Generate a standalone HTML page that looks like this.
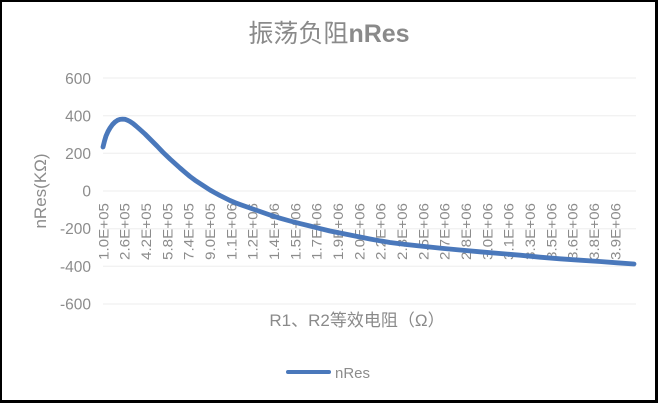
<!DOCTYPE html>
<html>
<head>
<meta charset="utf-8">
<style>
html,body{margin:0;padding:0;background:#fff;}
body{width:658px;height:403px;overflow:hidden;}
svg{display:block;}
</style>
</head>
<body>
<svg width="658" height="403" viewBox="0 0 658 403" xmlns="http://www.w3.org/2000/svg">
  <rect x="0" y="0" width="658" height="403" fill="#000"/>
  <rect x="2" y="2" width="653" height="398" fill="#fff"/>

  <!-- Title -->
  <text x="329" y="42" text-anchor="middle" fill="#8a8a8a" font-size="25" font-family="'Liberation Sans','Noto Sans CJK SC',sans-serif"><tspan>振荡负阻</tspan><tspan font-weight="bold">nRes</tspan></text>

  <!-- gridlines -->
  <g stroke="#eeeeee" stroke-width="1">
    <line x1="103" y1="78" x2="636" y2="78"/>
    <line x1="103" y1="115.7" x2="636" y2="115.7"/>
    <line x1="103" y1="153.3" x2="636" y2="153.3"/>
    <line x1="103" y1="191" x2="636" y2="191"/>
    <line x1="103" y1="228.7" x2="636" y2="228.7"/>
    <line x1="103" y1="266.3" x2="636" y2="266.3"/>
    <line x1="103" y1="304" x2="636" y2="304"/>
  </g>

  <!-- y labels -->
  <g fill="#8c8c8c" font-size="15.5" font-family="'Liberation Sans',sans-serif" text-anchor="end">
    <text x="91" y="84">600</text>
    <text x="91" y="121.5">400</text>
    <text x="91" y="159">200</text>
    <text x="91" y="196.5">0</text>
    <text x="91" y="234">-200</text>
    <text x="91" y="272">-400</text>
    <text x="91" y="309.5">-600</text>
  </g>

  <!-- y title -->
  <text transform="translate(46,191) rotate(-90)" text-anchor="middle" fill="#8c8c8c" font-size="17" font-family="'Liberation Sans','Noto Sans CJK SC',sans-serif">nRes(KΩ)</text>

  <!-- x tick labels -->
  <g fill="#8c8c8c" font-size="14" font-family="'Liberation Sans',sans-serif" text-anchor="end">
    <text transform="translate(108.3,203) rotate(-90)" textLength="57" lengthAdjust="spacingAndGlyphs">1.0E+05</text>
    <text transform="translate(129.6,203) rotate(-90)" textLength="57" lengthAdjust="spacingAndGlyphs">2.6E+05</text>
    <text transform="translate(151,203) rotate(-90)" textLength="57" lengthAdjust="spacingAndGlyphs">4.2E+05</text>
    <text transform="translate(172.3,203) rotate(-90)" textLength="57" lengthAdjust="spacingAndGlyphs">5.8E+05</text>
    <text transform="translate(193.6,203) rotate(-90)" textLength="57" lengthAdjust="spacingAndGlyphs">7.4E+05</text>
    <text transform="translate(215,203) rotate(-90)" textLength="57" lengthAdjust="spacingAndGlyphs">9.0E+05</text>
    <text transform="translate(236.3,203) rotate(-90)" textLength="57" lengthAdjust="spacingAndGlyphs">1.1E+06</text>
    <text transform="translate(257.6,203) rotate(-90)" textLength="57" lengthAdjust="spacingAndGlyphs">1.2E+06</text>
    <text transform="translate(279,203) rotate(-90)" textLength="57" lengthAdjust="spacingAndGlyphs">1.4E+06</text>
    <text transform="translate(300.3,203) rotate(-90)" textLength="57" lengthAdjust="spacingAndGlyphs">1.5E+06</text>
    <text transform="translate(321.6,203) rotate(-90)" textLength="57" lengthAdjust="spacingAndGlyphs">1.7E+06</text>
    <text transform="translate(343,203) rotate(-90)" textLength="57" lengthAdjust="spacingAndGlyphs">1.9E+06</text>
    <text transform="translate(364.3,203) rotate(-90)" textLength="57" lengthAdjust="spacingAndGlyphs">2.0E+06</text>
    <text transform="translate(385.6,203) rotate(-90)" textLength="57" lengthAdjust="spacingAndGlyphs">2.2E+06</text>
    <text transform="translate(407,203) rotate(-90)" textLength="57" lengthAdjust="spacingAndGlyphs">2.3E+06</text>
    <text transform="translate(428.3,203) rotate(-90)" textLength="57" lengthAdjust="spacingAndGlyphs">2.5E+06</text>
    <text transform="translate(449.6,203) rotate(-90)" textLength="57" lengthAdjust="spacingAndGlyphs">2.7E+06</text>
    <text transform="translate(471,203) rotate(-90)" textLength="57" lengthAdjust="spacingAndGlyphs">2.8E+06</text>
    <text transform="translate(492.3,203) rotate(-90)" textLength="57" lengthAdjust="spacingAndGlyphs">3.0E+06</text>
    <text transform="translate(513.6,203) rotate(-90)" textLength="57" lengthAdjust="spacingAndGlyphs">3.1E+06</text>
    <text transform="translate(535,203) rotate(-90)" textLength="57" lengthAdjust="spacingAndGlyphs">3.3E+06</text>
    <text transform="translate(556.3,203) rotate(-90)" textLength="57" lengthAdjust="spacingAndGlyphs">3.5E+06</text>
    <text transform="translate(577.6,203) rotate(-90)" textLength="57" lengthAdjust="spacingAndGlyphs">3.6E+06</text>
    <text transform="translate(599,203) rotate(-90)" textLength="57" lengthAdjust="spacingAndGlyphs">3.8E+06</text>
    <text transform="translate(620.3,203) rotate(-90)" textLength="57" lengthAdjust="spacingAndGlyphs">3.9E+06</text>
  </g>

  <!-- series -->
  <polyline fill="none" stroke="#4a78bb" stroke-width="4.8" stroke-linejoin="round" stroke-linecap="round"
    points="103,147 104.5,141 106,136 108,131.5 110,128 112.5,124.5 115,122 117.5,120.3 120,119.4 122.5,119.1 125,119.3 127.5,120.2 130,121.5 133,123.5 136,126 140,129.5 145,134 150,139 157,146 163,152.3 170,159 175,163.5 180,168 185,172.3 190,176.5 195,180.2 200,183.5 205,186.8 210,190 215,192.8 220,195.5 225,198 230,200.5 235,202.6 240,204.5 245,206.3 250,208 255,209.8 260,211.5 270,215 280,218.2 290,221 300,223.6 310,226 320,228.6 330,231 340,233 350,235 360,237 370,239 380,240.8 390,242.5 405,244.4 420,246 440,248.1 460,250 480,251.8 500,253.5 520,255.2 540,257.2 560,258.8 580,260.2 600,261.5 617,262.8 634,264"/>

  <!-- x title -->
  <text x="357" y="326" text-anchor="middle" fill="#8a8a8a" font-size="17" font-family="'Liberation Sans','Noto Sans CJK SC',sans-serif">R1、R2等效电阻（Ω）</text>

  <!-- legend -->
  <line x1="288" y1="372" x2="329" y2="372" stroke="#4a78bb" stroke-width="4" stroke-linecap="round"/>
  <text x="335" y="378" fill="#8c8c8c" font-size="15" font-family="'Liberation Sans',sans-serif">nRes</text>
</svg>
</body>
</html>
